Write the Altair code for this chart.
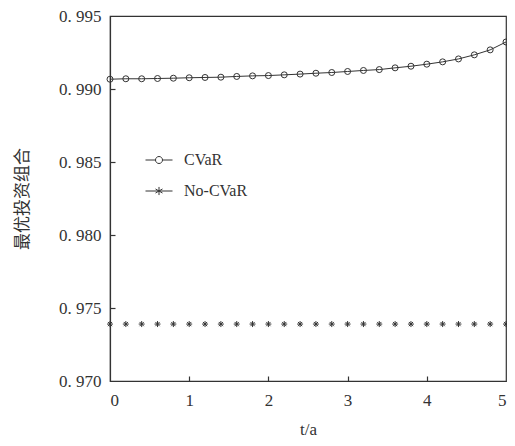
import altair as alt
import pandas as pd

t = [0.0, 0.2, 0.4, 0.6, 0.8, 1.0, 1.2, 1.4, 1.6, 1.8, 2.0, 2.2, 2.4,
     2.6, 2.8, 3.0, 3.2, 3.4, 3.6, 3.8, 4.0, 4.2, 4.4, 4.6, 4.8, 5.0]
cvar = [0.99067, 0.99070, 0.99070, 0.99072, 0.99074, 0.99077, 0.99079,
        0.99081, 0.99086, 0.99090, 0.99092, 0.99097, 0.99102, 0.99108,
        0.99113, 0.99120, 0.99127, 0.99133, 0.99145, 0.99156, 0.99170,
        0.99186, 0.99206, 0.99234, 0.99268, 0.99322]
no_cvar = [0.9739, 0.9739, 0.9739, 0.9739, 0.9739, 0.9739, 0.9739, 0.9739,
           0.9739, 0.9739, 0.9739, 0.9739, 0.9739, 0.9739, 0.9739, 0.9739,
           0.9739, 0.9739, 0.9739, 0.9739, 0.9739, 0.9739, 0.9739, 0.9739,
           0.9739, 0.9739]
series = ["CVaR", "No-CVaR"]
y_ticks = [0.970, 0.975, 0.980, 0.985, 0.990, 0.995]
x_ticks = [0, 1, 2, 3, 4, 5]

df = pd.concat([
    pd.DataFrame({"t": t, "value": cvar, "series": series[0]}),
    pd.DataFrame({"t": t, "value": no_cvar, "series": series[1]}),
])

INK = "#333333"
SERIF = "'Liberation Serif', 'DejaVu Serif', serif"
STAR = "M-1,0H1M0,-1V1M-0.7,-0.7L0.7,0.7M-0.7,0.7L0.7,-0.7"
LEG_CIRCLE = ("M-1,0H-0.26M0.26,0H1M-0.26,0A0.26,0.26 0 1,0 0.26,0"
              "A0.26,0.26 0 1,0 -0.26,0")
LEG_STAR = ("M-1,0H1M0,-0.3V0.3M-0.26,-0.15L0.26,0.15M-0.26,0.15L0.26,-0.15")

xs = alt.Scale(domain=[0, 5], nice=False, zero=False)
ys = alt.Scale(domain=[0.970, 0.995], nice=False, zero=False)

label_axis_x = alt.Axis(values=x_ticks, ticks=False, grid=False, format="d",
                        labelFont=SERIF, labelFontSize=17, labelColor=INK,
                        labelPadding=11, domainColor=INK, domainWidth=1.2,
                        title="t/a", titleFont=SERIF, titleFontSize=17,
                        titleFontWeight="normal", titleColor=INK,
                        titlePadding=13, orient="bottom")
label_axis_y = alt.Axis(values=y_ticks, ticks=False, grid=False,
                        labelExpr="replace(format(datum.value, '.3f'), '.', '. ')",
                        labelFont=SERIF, labelFontSize=17, labelColor=INK,
                        labelPadding=9, domainColor=INK, domainWidth=1.2,
                        title="最优投资组合", titleFont="Noto Sans CJK SC",
                        titleFontSize=17, titleFontWeight="normal",
                        titleColor=INK, titlePadding=27, orient="left")
tick_axis_x = alt.Axis(values=[1, 2, 3, 4], orient="bottom", offset=-5,
                       tickSize=5, tickColor=INK, tickWidth=1.2, labels=False,
                       domain=False, grid=False, title=None)
tick_axis_y = alt.Axis(values=[0.975, 0.980, 0.985, 0.990], orient="left",
                       offset=-5, tickSize=5, tickColor=INK, tickWidth=1.2,
                       labels=False, domain=False, grid=False, title=None)

line = alt.Chart(df).transform_filter(
    alt.datum.series == "CVaR"
).mark_line(color=INK, strokeWidth=1).encode(
    x=alt.X("t:Q", scale=xs, axis=label_axis_x),
    y=alt.Y("value:Q", scale=ys, axis=label_axis_y),
)

points = alt.Chart(df).mark_point(filled=False, size=36, strokeWidth=1,
                                  color=INK, opacity=1).encode(
    x=alt.X("t:Q", scale=xs, axis=tick_axis_x),
    y=alt.Y("value:Q", scale=ys, axis=None),
    shape=alt.Shape("series:N",
                    scale=alt.Scale(domain=series, range=["circle", STAR]),
                    legend=None),
)

legend_layer = alt.Chart(df).mark_point(filled=False, size=36, strokeWidth=1,
                                        color=INK, opacity=0).encode(
    x=alt.X("t:Q", scale=xs, axis=None),
    y=alt.Y("value:Q", scale=ys, axis=tick_axis_y),
    shape=alt.Shape("series:N",
                    scale=alt.Scale(domain=series,
                                    range=[LEG_CIRCLE, LEG_STAR]),
                    legend=alt.Legend(
                        title=None, orient="none", legendX=35, legendY=130,
                        symbolSize=729, symbolStrokeWidth=1,
                        symbolStrokeColor=INK, symbolFillColor="transparent",
                        symbolOpacity=1,
                        labelFont=SERIF, labelFontSize=16, labelColor=INK,
                        labelOffset=11, rowPadding=9)),
)

chart = alt.layer(line, points, legend_layer).resolve_axis(
    x="independent", y="independent"
).resolve_scale(shape="independent").properties(
    width=396, height=365,
    autosize=alt.AutoSizeParams(type="none"),
    padding={"left": 102, "top": 8, "right": 1, "bottom": 57},
).configure_view(stroke=INK, strokeWidth=1.2)

chart.save("out.html", embed_options={"renderer": "svg", "actions": False})
